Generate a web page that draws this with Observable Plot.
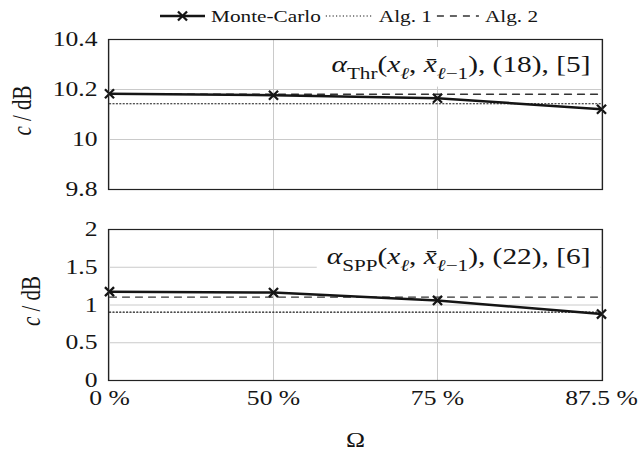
<!DOCTYPE html>
<html>
<head>
<meta charset="utf-8">
<script src="https://cdn.jsdelivr.net/npm/d3@7"></script>
<script src="https://cdn.jsdelivr.net/npm/@observablehq/plot@0.6"></script>
<style>
  body { margin: 0; background: #fff; }
  #chart { position: relative; width: 642px; height: 453px; overflow: hidden; background: #fff; }
  #chart svg { display: block; }
</style>
</head>
<body>
<div id="chart"></div>
<script>
// ---------------- data ----------------
const omega = ["0 %", "50 %", "75 %", "87.5 %"];
const seriesNames = ["Monte-Carlo", "Alg. 1", "Alg. 2"];

const mcThr   = [10.183, 10.177, 10.165, 10.121];
const alg1Thr = [10.143, 10.143, 10.143, 10.143];
const alg2Thr = [10.181, 10.181, 10.181, 10.181];

const mcSpp   = [1.177, 1.165, 1.06, 0.88];
const alg1Spp = [0.905, 0.905, 0.905, 0.905];
const alg2Spp = [1.105, 1.105, 1.105, 1.105];

const yDomainThr = [9.8, 10.4];
const yTicksThr  = [9.8, 10, 10.2, 10.4];
const yDomainSpp = [0, 2];
const yTicksSpp  = [0, 0.5, 1, 1.5, 2];

const yLabel = "c / dB";
const xLabel = "Ω";

// annotation segments: [text, flags]  (i = italic, s = subscript)
const annThr = [["α", "i"], ["Thr", "s"], ["("], ["x", "i"], ["ℓ", "si"], [", "], ["x\u0304", "i"], ["ℓ", "si"], ["−1", "s"], ["), (18), [5]"]];
const annSpp = [["α", "i"], ["SPP", "s"], ["("], ["x", "i"], ["ℓ", "si"], [", "], ["x\u0304", "i"], ["ℓ", "si"], ["−1", "s"], ["), (22), [6]"]];

// ---------------- style ----------------
const FONT = '"Liberation Serif", "Times New Roman", serif';
const SX = 1.25;          // horizontal glyph stretch of the reference
const GRID = "#cacaca";
const INK = "#151515";
const ANN_FS = 23.5;

function panel({mc, alg1, alg2, domain, ticks, ann, annDy, labelDx, height, marginTop, marginBottom, showX}) {
  const rows = omega.map((o, i) => ({o, mc: mc[i], a1: alg1[i], a2: alg2[i]}));
  const marks = [
    Plot.gridX(omega, {stroke: GRID, strokeOpacity: 1, strokeWidth: 1}),
    Plot.gridY(ticks, {stroke: GRID, strokeOpacity: 1, strokeWidth: 1}),
    Plot.axisY({ticks, tickSize: 0, tickPadding: 11, tickFormat: d => String(d), fontSize: 20.5, label: null}),
    Plot.text([yLabel], {frameAnchor: "left", dx: labelDx, dy: -4, rotate: -90, text: d => d,
      fontSize: 21, lineAnchor: "middle", textAnchor: "middle", fill: INK}),
    Plot.lineY(rows, {x: "o", y: "a1", stroke: INK, strokeWidth: 1.1, strokeDasharray: "1.2,2.2"}),
    Plot.lineY(rows, {x: "o", y: "a2", stroke: "#333", strokeWidth: 1.3, strokeDasharray: "7,6"}),
    Plot.lineY(rows, {x: "o", y: "mc", stroke: INK, strokeWidth: 2.5}),
    Plot.dot(rows, {x: "o", y: "mc", symbol: "times", r: 4.2, stroke: INK, strokeWidth: 2.3}),
    Plot.text([ann.map(s => s[0]).join("")], {frameAnchor: "top-right", dx: -12, dy: annDy,
      text: d => d, fontSize: ANN_FS, lineAnchor: "middle", textAnchor: "end", fill: INK}),
    Plot.frame({stroke: "#222", strokeWidth: 1.2})
  ];
  if (showX) marks.splice(3, 0, Plot.axisX({tickSize: 0, tickPadding: 10, fontSize: 20.5,
    label: xLabel, labelAnchor: "center", labelOffset: 66, labelArrow: "none"}));
  return Plot.plot({
    width: 642, height, marginLeft: 108, marginRight: 40, marginTop, marginBottom,
    style: {fontFamily: FONT, fontSize: "20.5px", color: INK, background: "#fff", overflow: "visible"},
    x: {type: "point", domain: omega, padding: 0, label: null, axis: showX ? undefined : null},
    y: {domain, label: null},
    marks
  });
}

const chart = document.getElementById("chart");

// ---------------- legend ----------------
const leg = d3.create("svg").attr("width", 642).attr("height", 30);
chart.appendChild(leg.node());

// ---------------- panels ----------------
const topPlot = panel({mc: mcThr, alg1: alg1Thr, alg2: alg2Thr, domain: yDomainThr, ticks: yTicksThr,
  ann: annThr, annDy: 25, labelDx: -86, height: 169, marginTop: 9, marginBottom: 10, showX: false});
const botPlot = panel({mc: mcSpp, alg1: alg1Spp, alg2: alg2Spp, domain: yDomainSpp, ticks: yTicksSpp,
  ann: annSpp, annDy: 27, labelDx: -77, height: 254, marginTop: 30, marginBottom: 73, showX: true});
chart.appendChild(topPlot);
chart.appendChild(botPlot);

// ---------------- post-processing ----------------
function rich(textEl, segs, base) {
  const sel = d3.select(textEl);
  sel.text(null);
  let shift = 0;
  for (const [t, f = ""] of segs) {
    const sub = f.includes("s"), it = f.includes("i");
    const want = sub ? base * 0.28 : 0;
    const ts = sel.append("tspan").text(t);
    if (want !== shift) { ts.attr("dy", want - shift); shift = want; }
    if (sub) ts.attr("font-size", base * 0.72);
    if (it) ts.attr("font-style", "italic");
  }
}

function stretch(textEl) {
  const tr = textEl.getAttribute("transform") || "";
  if (tr.includes("rotate")) {
    textEl.setAttribute("transform", tr + ` scale(1,${SX})`);
    return;
  }
  const len = textEl.getComputedTextLength();
  if (len > 0) {
    textEl.setAttribute("textLength", len * SX);
    textEl.setAttribute("lengthAdjust", "spacingAndGlyphs");
  }
}

for (const [svg, ann] of [[topPlot, annThr], [botPlot, annSpp]]) {
  const plain = ann.map(s => s[0]).join("");
  const texts = Array.from(svg.querySelectorAll("text"));
  let annEl = null;
  for (const t of texts) {
    const c = t.textContent;
    if (c === plain) { rich(t, ann, ANN_FS); annEl = t; }
    else if (c === yLabel) {
      d3.select(t).text(null);
      d3.select(t).append("tspan").attr("font-style", "italic").text("c");
      d3.select(t).append("tspan").text(" / dB");
    }
  }
  for (const t of texts) stretch(t);
  if (annEl) {
    const bb = annEl.getBBox();
    const padX = 10, padY = 4;
    const r = document.createElementNS("http://www.w3.org/2000/svg", "rect");
    r.setAttribute("x", bb.x - padX);
    r.setAttribute("y", bb.y - padY);
    r.setAttribute("width", bb.width + 2 * padX);
    r.setAttribute("height", bb.height + 2 * padY);
    r.setAttribute("fill", "#fff");
    const tr = annEl.getAttribute("transform");
    if (tr) r.setAttribute("transform", tr);
    annEl.parentNode.insertBefore(r, annEl);
  }
}

// legend content
(function buildLegend() {
  const g = leg.append("g").attr("font-family", FONT).attr("font-size", 17).attr("fill", INK);
  const cy = 16;
  let x = 160;
  const items = [
    {name: seriesNames[0], w: 45, dash: null, sw: 2.5, marker: true, stroke: INK},
    {name: seriesNames[1], w: 47, dash: "1.2,2.2", sw: 1.1, marker: false, stroke: INK},
    {name: seriesNames[2], w: 42, dash: "7,6", sw: 1.3, marker: false, stroke: "#333"}
  ];
  for (const it of items) {
    const ln = g.append("line").attr("x1", x).attr("x2", x + it.w).attr("y1", cy).attr("y2", cy)
      .attr("stroke", it.stroke).attr("stroke-width", it.sw);
    if (it.dash) ln.attr("stroke-dasharray", it.dash);
    if (it.marker) {
      g.append("path").attr("d", d3.symbol(d3.symbolTimes, 4.2 * 4.2 * Math.PI)())
        .attr("transform", `translate(${x + it.w / 2},${cy})`)
        .attr("fill", "none").attr("stroke", INK).attr("stroke-width", 2.3);
    }
    x += it.w + 6;
    const t = g.append("text").attr("x", x).attr("y", cy).attr("dy", "0.33em").text(it.name);
    const len = t.node().getComputedTextLength() * SX;
    t.attr("textLength", len).attr("lengthAdjust", "spacingAndGlyphs");
    x += len + 5;
  }
})();
</script>
</body>
</html>
